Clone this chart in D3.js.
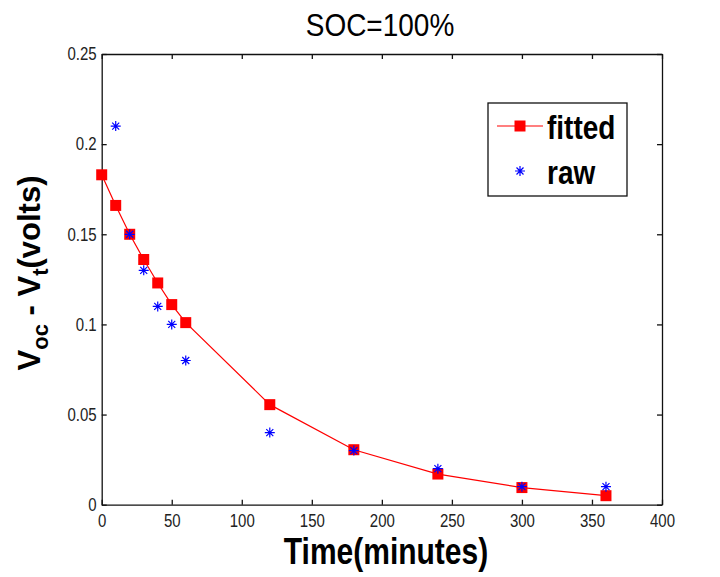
<!DOCTYPE html>
<html lang="en">
<head>
<meta charset="utf-8">
<title>SOC=100%</title>
<script src="https://d3js.org/d3.v7.min.js"></script>
<style>
body { margin: 0; background: #fff; }
.domain, .tick line { stroke: #111; stroke-width: 1.3; }
</style>
</head>
<body>
<div id="container"></div>
<script>
var w = 720, h = 577;

// data
var times = [0, 10, 20, 30, 40, 50, 60, 120, 180, 240, 300, 360];
var fitted = [0.183, 0.166, 0.150, 0.136, 0.123, 0.111, 0.101, 0.0555, 0.0305, 0.017, 0.0095, 0.005];
var rawTimes = [10, 20, 30, 40, 50, 60, 120, 180, 240, 300, 360];
var raw = [0.21, 0.15, 0.13, 0.11, 0.10, 0.08, 0.04, 0.03, 0.02, 0.01, 0.01];
var xTicks = [0, 50, 100, 150, 200, 250, 300, 350, 400];
var yTicks = [0, 0.05, 0.1, 0.15, 0.2, 0.25];

var pl = 101.7, pr = 662, pt = 54, pb = 504.7;
var stretch = "scale(1,1.2)";   // text in the original looks vertically stretched

var svg = d3.select("#container").append("svg")
    .attr("width", w).attr("height", h)
    .style("font-family", "'Liberation Sans', Arial, sans-serif");

var x = d3.scaleLinear().domain([0, 400]).range([pl, pr]);
var y = d3.scaleLinear().domain([0, 0.25]).range([pb, pt]);

function styleTicks(g) {
    g.attr("font-family", "'Liberation Sans', Arial, sans-serif").attr("font-size", 15);
    g.selectAll(".tick text").attr("fill", "#222").attr("transform", stretch);
}

// axes, ticks pointing inward
svg.append("g").attr("transform", "translate(0," + pb + ")")
    .call(d3.axisBottom(x).tickValues(xTicks).tickFormat(d3.format("d")).tickSizeInner(-5).tickSizeOuter(0).tickPadding(8))
    .call(styleTicks);
svg.append("g").attr("transform", "translate(0," + pt + ")")
    .call(d3.axisTop(x).tickValues(xTicks).tickFormat("").tickSizeInner(-5).tickSizeOuter(0));
svg.append("g").attr("transform", "translate(" + pl + ",0)")
    .call(d3.axisLeft(y).tickValues(yTicks).tickFormat(function(d) { return String(+d.toFixed(2)); }).tickSizeInner(-5).tickSizeOuter(0).tickPadding(5))
    .call(styleTicks);
svg.append("g").attr("transform", "translate(" + pr + ",0)")
    .call(d3.axisRight(y).tickValues(yTicks).tickFormat("").tickSizeInner(-5).tickSizeOuter(0));

// fitted line
var line = d3.line().x(function(d, i) { return x(times[i]); }).y(function(d) { return y(d); });
svg.append("path").datum(fitted)
    .attr("d", line).attr("fill", "none").attr("stroke", "red").attr("stroke-width", 1.2);

var square = d3.symbol().type(d3.symbolSquare).size(121);
svg.selectAll(".sq").data(fitted).enter().append("path")
    .attr("class", "sq")
    .attr("d", square)
    .attr("transform", function(d, i) { return "translate(" + x(times[i]) + "," + y(d) + ")"; })
    .attr("fill", "red");

function star(r) {
    var a = r * 0.7;
    return "M0," + (-r) + "V" + r + "M" + (-r) + ",0H" + r +
        "M" + (-a) + "," + (-a) + "L" + a + "," + a + "M" + (-a) + "," + a + "L" + a + "," + (-a);
}
svg.selectAll(".st").data(raw).enter().append("path")
    .attr("class", "st")
    .attr("d", star(5))
    .attr("transform", function(d, i) { return "translate(" + x(rawTimes[i]) + "," + y(d) + ")"; })
    .attr("stroke", "blue").attr("stroke-width", 1.2).attr("fill", "none");

// legend
var lg = svg.append("g");
lg.append("rect").attr("x", 488).attr("y", 103).attr("width", 139).attr("height", 93)
    .attr("fill", "#fff").attr("stroke", "#111").attr("stroke-width", 1.3);
lg.append("line").attr("x1", 497).attr("x2", 543).attr("y1", 126).attr("y2", 126)
    .attr("stroke", "red").attr("stroke-width", 1.2);
lg.append("path").attr("d", square).attr("transform", "translate(520,126)").attr("fill", "red");
lg.append("path").attr("d", star(5)).attr("transform", "translate(520,171)")
    .attr("stroke", "blue").attr("stroke-width", 1.2).attr("fill", "none");
lg.append("text").attr("transform", "translate(547,139) " + stretch).text("fitted")
    .attr("font-size", 28).attr("font-weight", "bold");
lg.append("text").attr("transform", "translate(547,184) " + stretch).text("raw")
    .attr("font-size", 28).attr("font-weight", "bold");

// title and labels
svg.append("text").attr("transform", "translate(380,36) scale(1,1.15)").attr("text-anchor", "middle")
    .attr("font-size", 28).text("SOC=100%");
svg.append("text").attr("transform", "translate(386,564) " + stretch).attr("text-anchor", "middle")
    .attr("font-size", 30).attr("font-weight", "bold").text("Time(minutes)");

var yl = svg.append("text").attr("transform", "translate(40,273) rotate(-90)")
    .attr("text-anchor", "middle").attr("font-size", 31).attr("font-weight", "bold");
yl.append("tspan").text("V");
yl.append("tspan").attr("dy", 8).attr("font-size", 22).text("oc");
yl.append("tspan").attr("dy", -8).text(" - V");
yl.append("tspan").attr("dy", 8).attr("font-size", 22).text("t");
yl.append("tspan").attr("dy", -8).text("(volts)");
</script>
</body>
</html>
